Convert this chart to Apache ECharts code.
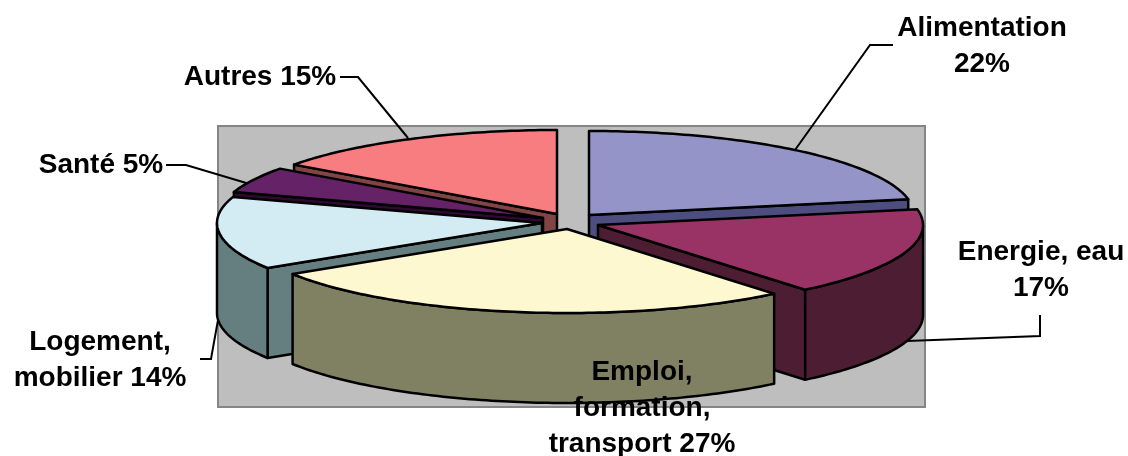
<!DOCTYPE html>
<html>
<head>
<meta charset="utf-8">
<title>Répartition des dépenses</title>
<style>
  html, body { margin: 0; padding: 0; background: #fff; }
  #main { width: 1128px; height: 456px; }
</style>
<script src="https://cdn.jsdelivr.net/npm/echarts@6/dist/echarts.min.js"></script>
</head>
<body>
<div id="main"></div>
<script>
// donnees
var categories = ['Alimentation', 'Energie, eau', 'Emploi,\nformation,\ntransport', 'Logement,\nmobilier', 'Santé', 'Autres'];
var values = [22, 17, 27, 14, 5, 15];
var separators = ['\n', '\n', ' ', ' ', ' ', ' '];

// mise en page du camembert 3D
var radiusX = 325;
var radiusY = 84;
var depth = 90;
var apexes = [[589, 215], [598, 225], [567, 229], [542, 223], [543, 218], [557, 214]];
var topColors = ['#9494c8', '#993366', '#fdf8cf', '#d3ecf4', '#662266', '#f77d80'];
var sideColors = ['#4d4d80', '#4d1e33', '#808063', '#657f80', '#2e0a33', '#804444'];
var drawOrder = [5, 4, 0, 3, 1, 2];
var labelPos = [[982, 46], [1041, 270], [642, 408], [100, 360], [101, 165], [260, 77]];
var leaders = [
  [[795, 150], [870, 45], [893, 45]],
  [[1040, 315], [1040, 336], [907, 341]],
  [[200, 359], [211, 359], [218, 320]],
  [[340, 77], [358, 77], [408, 138]],
  [[166, 165], [186, 165], [253, 185]]
];

var total = values.reduce(function (a, b) { return a + b; }, 0);
var angles = [0];
values.forEach(function (v, i) { angles.push(angles[i] + v / total * 360); });

function point(c, deg, drop) {
  var r = deg * Math.PI / 180;
  return [c[0] + radiusX * Math.sin(r), c[1] - radiusY * Math.cos(r) + (drop || 0)];
}

function arc(c, from, to, drop) {
  var pts = [];
  for (var a = from; a < to; a += 1) pts.push(point(c, a, drop));
  pts.push(point(c, to, drop));
  return pts;
}

function face(points, fill) {
  return {
    type: 'polygon',
    shape: { points: points },
    style: { fill: fill, stroke: '#000', lineWidth: 2.5, lineJoin: 'round' }
  };
}

function radialWall(c, deg, fill) {
  return face([c, point(c, deg), point(c, deg, depth), [c[0], c[1] + depth]], fill);
}

function renderSlice(params, api) {
  var i = api.value(0);
  var c = apexes[i];
  var from = angles[i];
  var to = angles[i + 1];
  var kids = [];
  // on ne dessine que les faces tournees vers le spectateur
  if (Math.sin(from * Math.PI / 180) < -0.01) kids.push(radialWall(c, from, sideColors[i]));
  if (Math.sin(to * Math.PI / 180) > 0.01) kids.push(radialWall(c, to, sideColors[i]));
  var a0 = Math.max(from, 90);
  var a1 = Math.min(to, 270);
  if (a0 < a1) {
    kids.push(face(arc(c, a0, a1, 0).concat(arc(c, a0, a1, depth).reverse()), sideColors[i]));
  }
  kids.push(face([c].concat(arc(c, from, to, 0)), topColors[i]));
  return { type: 'group', children: kids };
}

function renderLabel(params, api) {
  var i = api.value(0);
  return {
    type: 'text',
    style: {
      x: labelPos[i][0],
      y: labelPos[i][1],
      text: categories[i] + separators[i] + values[i] + '%',
      align: 'center',
      verticalAlign: 'middle',
      fontFamily: '"Liberation Sans", Arial, sans-serif',
      fontWeight: 'bold',
      fontSize: 28,
      lineHeight: 36,
      fill: '#000'
    }
  };
}

var graphics = [{
  type: 'rect',
  z: 0,
  shape: { x: 218, y: 126, width: 707, height: 281 },
  style: { fill: '#bebebe', stroke: '#858585', lineWidth: 2 }
}];
leaders.forEach(function (pts) {
  graphics.push({
    type: 'polyline',
    z: 1,
    shape: { points: pts },
    style: { fill: null, stroke: '#000', lineWidth: 2 }
  });
});

var myChart = echarts.init(document.getElementById('main'), null, { renderer: 'canvas' });

myChart.setOption({
  animation: false,
  backgroundColor: '#fff',
  graphic: graphics,
  series: [
    {
      type: 'custom',
      coordinateSystem: 'none',
      z: 5,
      renderItem: renderSlice,
      data: drawOrder.map(function (i) { return [i, values[i]]; })
    },
    {
      type: 'custom',
      coordinateSystem: 'none',
      z: 6,
      renderItem: renderLabel,
      data: values.map(function (v, i) { return [i, v]; })
    }
  ]
});
</script>
</body>
</html>
